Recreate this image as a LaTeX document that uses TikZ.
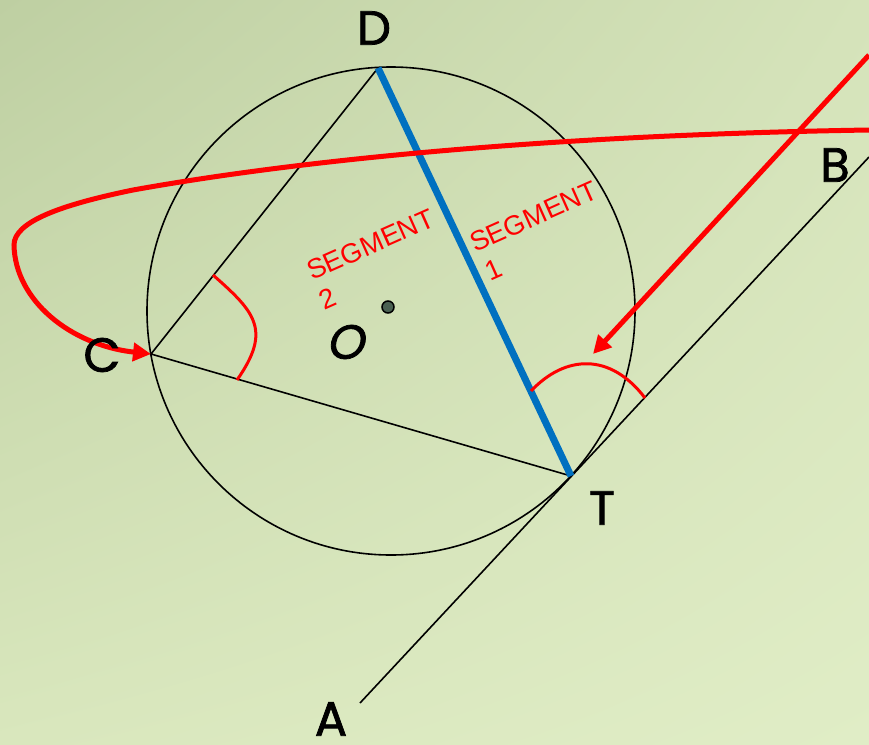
\documentclass[tikz,border=0pt]{standalone}
\usepackage{fontspec}
\usetikzlibrary{arrows.meta,shadings}
\newfontfamily\lblfont[FakeBold=1.6]{Poppins}
\newfontfamily\lblslant[FakeSlant=0.2,FakeBold=1.6]{Poppins}
\newfontfamily\segfont{Liberation Sans}
\definecolor{bgtl}{RGB}{190,207,162}
\definecolor{bgtr}{RGB}{213,227,186}
\definecolor{bgbl}{RGB}{217,231,189}
\definecolor{bgbr}{RGB}{224,237,198}
\definecolor{chordblue}{RGB}{0,112,192}
\definecolor{dotgray}{RGB}{74,96,82}
\tikzset{
  lbl/.style={font=\lblfont\fontsize{48}{48}\selectfont,inner sep=0pt},
  seglbl/.style={font=\segfont\fontsize{27.5}{30}\selectfont,text=red,rotate=24,anchor=base west,inner sep=0pt},
  thinline/.style={line width=1.6pt},
  redarc/.style={red,line width=3pt},
  redarrow/.style={red,line width=5pt,-{Triangle[length=18pt,width=18pt]}}
}
\begin{document}
\begin{tikzpicture}[x=1pt,y=-1pt]
% background
\shade[upper left=bgtl,upper right=bgtr,lower left=bgbl,lower right=bgbr] (0,0) rectangle (869,744);
\useasboundingbox (0,0) rectangle (869,744);
% points
\coordinate (ctr) at (391,311);
\coordinate (D) at (378,68);
\coordinate (C) at (151,354);
\coordinate (T) at (571,476);
\coordinate (A) at (360,703);
\coordinate (B) at (869,157);
\coordinate (O) at (388,307);
% circle, chords and tangent
\draw[thinline] (ctr) circle (244pt);
\draw[thinline] (D) -- (C) -- (T);
\draw[thinline] (A) -- (B);
\draw[chordblue,line width=7pt] (D) -- (T);
\filldraw[fill=dotgray,line width=1.5pt] (O) circle (6pt);
% angle marks
\draw[redarc] (213,275) .. controls (255,312) and (272,330) .. (237,380);
\draw[redarc] (531,391) .. controls (565,355) and (610,352) .. (645,398);
% arrows
\coordinate (loopS) at (869,130);
\coordinate (arrS) at (869,55);
\coordinate (arrE) at (593,354);
\draw[redarrow] (loopS) .. controls (550,135) and (300,160) .. (133,190)
  .. controls (60,205) and (14,222) .. (14,245)
  .. controls (15,300) and (70,345) .. (C);
\draw[redarrow] (arrS) -- (arrE);
% labels
\foreach \n/\x/\y in {D/374/28,B/835/165,C/102/355,T/602/508,A/331/719}
  \node[lbl] (l\n) at (\x,\y) {\n};
\node[lbl,font=\lblslant\fontsize{48}{48}\selectfont] (lO) at (345,342) {O};
\node[seglbl] (seg1) at (475,253) {SEGMENT};
\node[seglbl] (seg1n) at (490,282) {1};
\node[seglbl] (seg2) at (312,281) {SEGMENT};
\node[seglbl] (seg2n) at (324,311) {2};
\end{tikzpicture}
\end{document}
